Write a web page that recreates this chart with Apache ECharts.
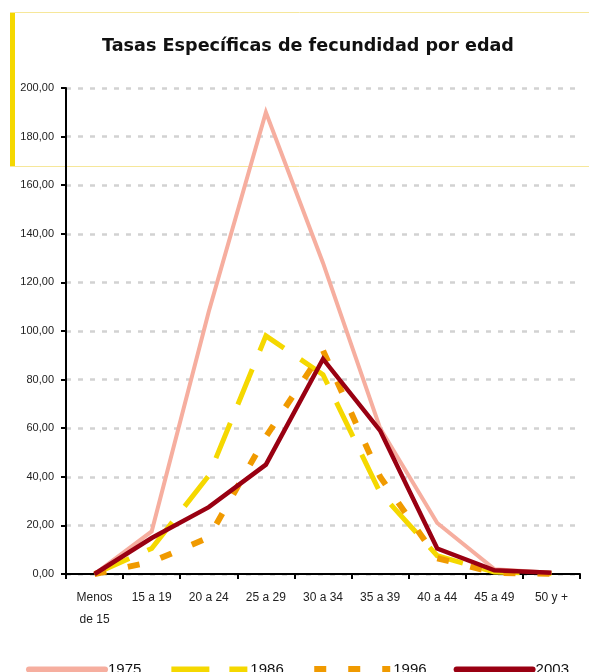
<!DOCTYPE html>
<html>
<head>
<meta charset="utf-8">
<script src="https://cdn.jsdelivr.net/npm/echarts@6/dist/echarts.min.js"></script>
<style>
  html, body { margin: 0; padding: 0; background: #fff; }
  #chart { width: 589px; height: 672px; }
</style>
</head>
<body>
<div id="chart"></div>
<script>
// grupos de edad
const categories = ['Menos\nde 15', '15 a 19', '20 a 24', '25 a 29', '30 a 34', '35 a 39', '40 a 44', '45 a 49', '50 y +']
// tasas por año
const s1975 = [0, 17.5, 108, 190, 128, 60, 21, 2, 0.5]
const s1986 = [0, 10.5, 40.5, 98, 82, 33.5, 7.5, 0.8, 0.1]
const s1996 = [0, 5, 15, 56.5, 92, 40, 6.5, 0.5, 0.1]
const s2003 = [0, 14.8, 27.5, 45, 88.5, 59, 10.5, 1.5, 0.5]
const years = ['1975', '1986', '1996', '2003']

const chart = echarts.init(document.getElementById('chart'))

const line = (name, data, color, width, dash) => ({
    name: name,
    type: 'line',
    data: data,
    symbol: 'none',
    lineStyle: { color: color, width: width, type: dash || 'solid', cap: 'butt', join: 'miter' },
    itemStyle: { color: color }
})

const option = {
    animation: false,
    backgroundColor: '#fff',
    title: {
        text: 'Tasas Específicas de fecundidad por edad',
        left: 97,
        top: 32,
        textStyle: { fontFamily: 'DejaVu Sans', fontWeight: 'bold', fontSize: 17.6, color: '#111' }
    },
    graphic: [
        { type: 'rect', shape: { x: 10, y: 12, width: 5, height: 154 }, style: { fill: '#F5D800' }, z: 0 },
        { type: 'line', shape: { x1: 10, y1: 12.5, x2: 589, y2: 12.5 }, style: { stroke: '#F6E79A', lineWidth: 1 }, z: 0 },
        { type: 'line', shape: { x1: 10, y1: 166.5, x2: 589, y2: 166.5 }, style: { stroke: '#F6E79A', lineWidth: 1 }, z: 0 }
    ],
    legend: {
        data: [
            { name: years[0], lineStyle: { width: 6, cap: 'round' } },
            { name: years[1], lineStyle: { width: 6, cap: 'butt' } },
            { name: years[2], lineStyle: { width: 7, cap: 'butt' } },
            { name: years[3], lineStyle: { width: 6, cap: 'round' } }
        ],
        left: 21,
        top: 657,
        itemWidth: 76,
        itemHeight: 14,
        itemGap: 27,
        itemStyle: { opacity: 0 },
        textStyle: { fontFamily: 'Arial', fontSize: 15, color: '#111', padding: [0, 0, 0, -2] }
    },
    grid: { left: 66, right: 9, top: 88, bottom: 98 },
    xAxis: {
        type: 'category',
        data: categories,
        boundaryGap: true,
        axisLine: { lineStyle: { color: '#000', width: 2 } },
        axisTick: { show: true, length: 5, lineStyle: { color: '#000', width: 2 } },
        axisLabel: { fontFamily: 'Arial', fontSize: 12, color: '#222', margin: 13, lineHeight: 22, interval: 0 }
    },
    yAxis: {
        type: 'value',
        min: 0,
        max: 200,
        interval: 20,
        axisLine: { show: true, lineStyle: { color: '#000', width: 2 } },
        axisTick: { show: true, length: 5, lineStyle: { color: '#000', width: 2 } },
        axisLabel: {
            fontFamily: 'Arial', fontSize: 11, color: '#222', margin: 12,
            formatter: v => v.toFixed(2).replace('.', ',')
        },
        splitLine: { show: true, lineStyle: { color: '#d2d2d2', width: 2.5, type: [5, 7] } }
    },
    series: [
        line('1975', s1975, '#F6AE9F', 4),
        line('1986', s1986, '#F5D800', 5, [38, 20]),
        line('1996', s1996, '#F09A00', 6, [12, 22]),
        line('2003', s2003, '#990012', 4.5)
    ]
}

chart.setOption(option)
</script>
</body>
</html>
